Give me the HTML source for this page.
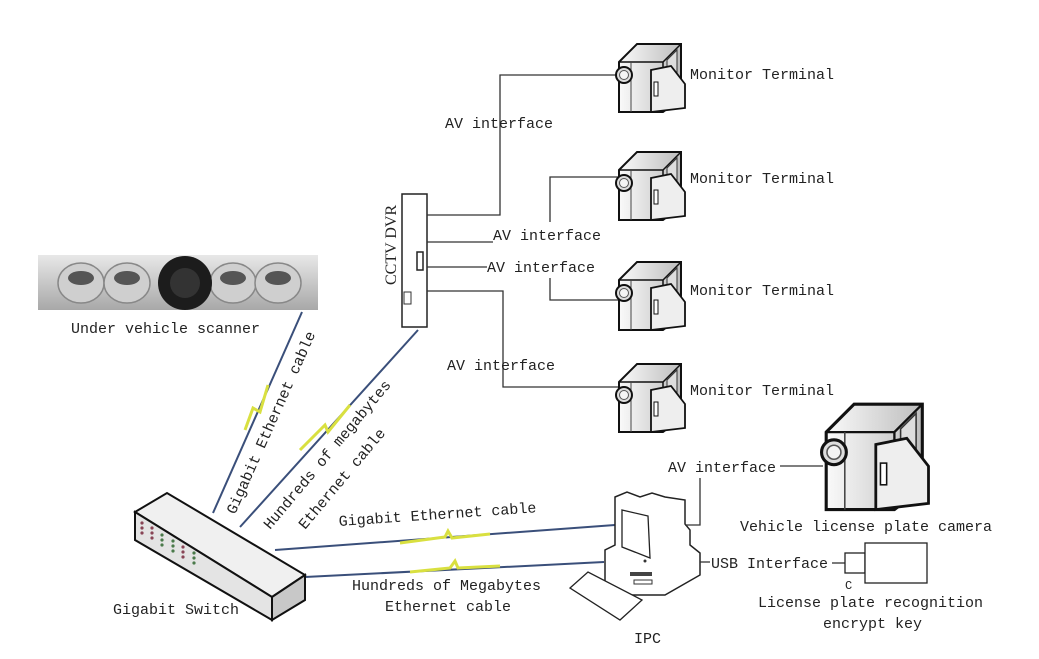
<!DOCTYPE html>
<html><head><meta charset="utf-8"><style>
html,body{margin:0;padding:0;background:#fff;}
svg{display:block;}
text{font-family:"Liberation Mono","DejaVu Sans Mono",monospace;font-size:15px;fill:#222;}
</style></head><body>
<svg width="1039" height="659" viewBox="0 0 1039 659" xmlns="http://www.w3.org/2000/svg">
<defs>
<linearGradient id="plate" x1="0" y1="0" x2="0" y2="1"><stop offset="0" stop-color="#e8e8e8"/><stop offset="1" stop-color="#a8a8a8"/></linearGradient>
<linearGradient id="body" x1="0" y1="0" x2="1" y2="0"><stop offset="0" stop-color="#fafafa"/><stop offset="1" stop-color="#bdbdbd"/></linearGradient>
<g id="cam">
  <path d="M4 22 L22 4 L66 4 L66 58 L48 72 L4 72 Z" fill="url(#body)" stroke="#111" stroke-width="2"/>
  <path d="M4 22 L48 22 L66 4 M48 22 L48 72" fill="none" stroke="#111" stroke-width="1.5"/>
  <path d="M16 22 L16 72" stroke="#444" stroke-width="1"/>
  <path d="M52 20 L62 10 L62 56 L52 64 Z" fill="#ddd" stroke="#333" stroke-width="1"/>
  <path d="M36 30 L56 26 L70 44 L70 68 L36 72 Z" fill="#eee" stroke="#111" stroke-width="1.8"/>
  <rect x="39" y="42" width="4" height="14" fill="#fff" stroke="#111"/>
  <circle cx="9" cy="35" r="8" fill="#ddd" stroke="#111" stroke-width="2"/>
  <circle cx="9" cy="35" r="4.5" fill="#f4f4f4" stroke="#555"/>
</g>
</defs>

<!-- scanner -->
<rect x="38" y="255" width="280" height="55" fill="url(#plate)"/>
<g fill="#cfcfcf" stroke="#888" stroke-width="1.5">
 <ellipse cx="81" cy="283" rx="23" ry="20"/><ellipse cx="127" cy="283" rx="23" ry="20"/>
 <ellipse cx="233" cy="283" rx="23" ry="20"/><ellipse cx="278" cy="283" rx="23" ry="20"/>
</g>
<g fill="#555"><ellipse cx="81" cy="278" rx="13" ry="7"/><ellipse cx="127" cy="278" rx="13" ry="7"/><ellipse cx="233" cy="278" rx="13" ry="7"/><ellipse cx="278" cy="278" rx="13" ry="7"/></g>
<circle cx="185" cy="283" r="27" fill="#1c1c1c"/>
<circle cx="185" cy="283" r="15" fill="#333"/>
<text x="71" y="333">Under vehicle scanner</text>

<!-- cables -->
<g fill="none" stroke-width="2">
 <path d="M213 513 L302 312" stroke="#3a4f7a"/>
 <path d="M245 430 L253 408 L260 412 L268 385" stroke="#d9e040" stroke-width="3"/>
 <path d="M240 527 L418 330" stroke="#3a4f7a"/>
 <path d="M300 450 L325 425 L328 432 L350 405" stroke="#d9e040" stroke-width="3"/>
 <path d="M275 550 L615 525" stroke="#3a4f7a"/>
 <path d="M400 543 L445 537 L448 531 L452 538 L490 534" stroke="#d9e040" stroke-width="3"/>
 <path d="M305 577 L604 562" stroke="#3a4f7a"/>
 <path d="M410 572 L450 568 L455 561 L458 568 L500 566" stroke="#d9e040" stroke-width="3"/>
</g>
<text transform="translate(235,515) rotate(-66)">Gigabit Ethernet cable</text>
<text transform="translate(270,530) rotate(-50)">Hundreds of megabytes</text>
<text transform="translate(305,530) rotate(-50)">Ethernet cable</text>
<text x="339" y="526" transform="rotate(-4 339 526)">Gigabit Ethernet cable</text>
<text x="352" y="590">Hundreds of Megabytes</text>
<text x="385" y="611">Ethernet cable</text>

<!-- switch -->
<path d="M135 512 L167 493 L305 575 L272 597 Z" fill="#f0f0f0" stroke="#111" stroke-width="2"/>
<path d="M135 512 L272 597 L272 620 L135 540 Z" fill="#e4e4e4" stroke="#111" stroke-width="2"/>
<path d="M272 597 L305 575 L305 600 L272 620 Z" fill="#c8c8c8" stroke="#111" stroke-width="2"/>
<g fill="#845" ><circle cx="142" cy="523" r="1.6"/><circle cx="142" cy="528" r="1.6"/><circle cx="142" cy="533" r="1.6"/><circle cx="152" cy="528" r="1.6"/><circle cx="152" cy="533" r="1.6"/><circle cx="152" cy="538" r="1.6"/><circle cx="183" cy="547" r="1.6"/><circle cx="183" cy="552" r="1.6"/><circle cx="183" cy="557" r="1.6"/></g>
<g fill="#4a7a4a"><circle cx="162" cy="535" r="1.6"/><circle cx="162" cy="540" r="1.6"/><circle cx="162" cy="545" r="1.6"/><circle cx="173" cy="541" r="1.6"/><circle cx="173" cy="546" r="1.6"/><circle cx="173" cy="551" r="1.6"/><circle cx="194" cy="553" r="1.6"/><circle cx="194" cy="558" r="1.6"/><circle cx="194" cy="563" r="1.6"/></g>
<text x="113" y="614">Gigabit Switch</text>

<!-- DVR -->
<rect x="402" y="194" width="25" height="133" fill="#fff" stroke="#222" stroke-width="1.5"/>
<rect x="417" y="252" width="6" height="18" fill="#fff" stroke="#222" stroke-width="1.5"/>
<rect x="404" y="292" width="7" height="12" fill="#fff" stroke="#333"/>
<text transform="translate(396,285) rotate(-90)" style="font-family:'Liberation Serif',serif;font-size:16px">CCTV DVR</text>

<g fill="none" stroke="#333" stroke-width="1.3">
 <path d="M427 215 L500 215 L500 75 L620 75"/>
 <path d="M427 242 L493 242"/>
 <path d="M550 222 L550 177 L620 177"/>
 <path d="M427 267 L487 267"/>
 <path d="M550 278 L550 300 L620 300"/>
 <path d="M427 291 L503 291 L503 387 L620 387"/>
</g>
<text x="445" y="128">AV interface</text>
<text x="493" y="240">AV interface</text>
<text x="487" y="272">AV interface</text>
<text x="447" y="370">AV interface</text>

<use href="#cam" x="615" y="40"/>
<use href="#cam" x="615" y="148"/>
<use href="#cam" x="615" y="258"/>
<use href="#cam" x="615" y="360"/>
<text x="690" y="79">Monitor Terminal</text>
<text x="690" y="183">Monitor Terminal</text>
<text x="690" y="295">Monitor Terminal</text>
<text x="690" y="395">Monitor Terminal</text>

<!-- big camera -->
<use href="#cam" transform="translate(820,398) scale(1.55)"/>
<text x="740" y="531">Vehicle license plate camera</text>

<!-- PC -->
<path d="M615 497 L627 492 L640 497 L652 493 L665 497 L685 500 L685 524 L690 530 L690 545 L700 553 L700 575 L665 595 L630 595 L605 585 L605 550 L615 545 Z" fill="#fff" stroke="#222" stroke-width="1.5"/>
<path d="M622 510 L648 516 L650 558 L622 547 Z" fill="#fff" stroke="#222" stroke-width="1.3"/>
<circle cx="645" cy="561" r="1.5" fill="#333"/>
<rect x="630" y="572" width="22" height="4" fill="#444"/><rect x="634" y="580" width="18" height="4" fill="none" stroke="#333"/>
<path d="M570 588 L588 572 L642 600 L620 620 Z" fill="#fff" stroke="#222" stroke-width="1.3"/>
<text x="634" y="643">IPC</text>
<path d="M685 525 L700 525 L700 478" fill="none" stroke="#333" stroke-width="1.3"/>
<text x="668" y="472">AV interface</text>
<path d="M780 466 L823 466" stroke="#333" stroke-width="1.3"/>
<path d="M700 562 L710 562" stroke="#333" stroke-width="1.3"/>
<text x="711" y="568">USB Interface</text>
<path d="M832 563 L845 563" stroke="#333" stroke-width="1.3"/>
<rect x="845" y="553" width="20" height="20" fill="#fff" stroke="#222" stroke-width="1.3"/>
<rect x="865" y="543" width="62" height="40" fill="#fff" stroke="#222" stroke-width="1.3"/>
<text x="845" y="589" style="font-size:12px">C</text>
<text x="758" y="607">License plate recognition</text>
<text x="823" y="628">encrypt key</text>
</svg>
</body></html>
